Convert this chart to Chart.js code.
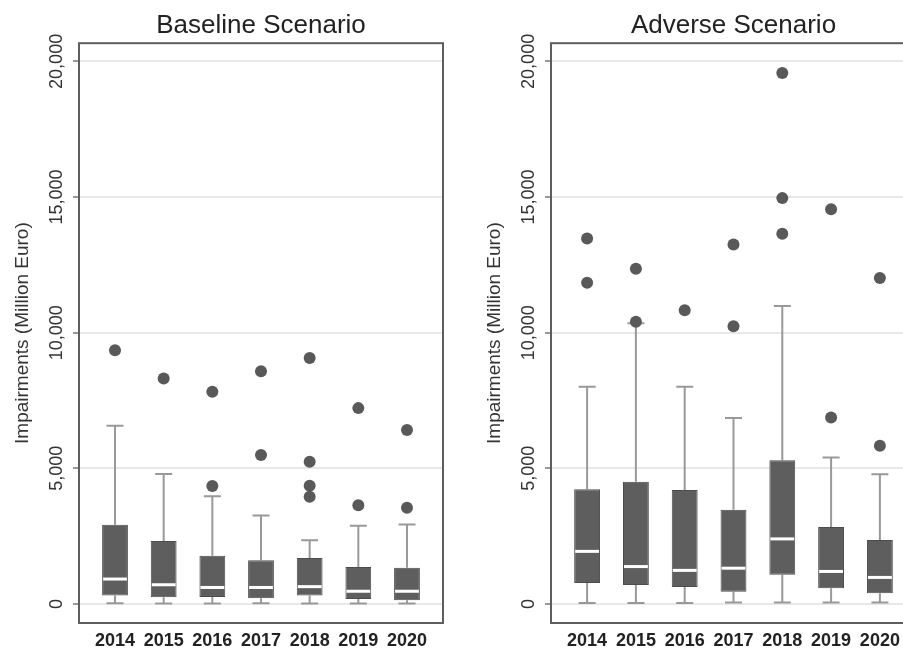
<!DOCTYPE html>
<html>
<head>
<meta charset="utf-8">
<script src="https://cdn.jsdelivr.net/npm/chart.js@4.4.1/dist/chart.umd.min.js"></script>
<style>
  html, body { margin: 0; padding: 0; overflow: hidden; background: #fff; }
  .panel { position: absolute; top: 0; }
</style>
</head>
<body>
<div class="panel" style="left:0"><canvas id="baseChart" width="450" height="650"></canvas></div>
<div class="panel" style="left:472px"><canvas id="advChart" width="451" height="650"></canvas></div>
<script>
// Box plot statistics (Million Euro)
const years = ['2014', '2015', '2016', '2017', '2018', '2019', '2020'];
const yTicks = [0, 5000, 10000, 15000, 20000];

// Baseline scenario
const baseLow = [25, 20, 20, 25, 20, 15, 15];
const baseQ1 = [310, 250, 260, 210, 310, 180, 140];
const baseMed = [920, 710, 610, 610, 640, 470, 470];
const baseQ3 = [2920, 2320, 1780, 1610, 1700, 1360, 1340];
const baseHigh = [6570, 4790, 3970, 3260, 2350, 2880, 2930];
const baseOutliers = [
    [9350],
    [8310],
    [7820, 4350],
    [8580, 5490],
    [9070, 5240, 4360, 3950],
    [7220, 3640],
    [6410, 3550]
];

// Adverse scenario
const advLow = [40, 40, 40, 60, 60, 60, 60];
const advQ1 = [770, 700, 630, 450, 1080, 580, 400];
const advMed = [1940, 1380, 1240, 1320, 2400, 1200, 980];
const advQ3 = [4230, 4510, 4200, 3470, 5300, 2840, 2360];
const advHigh = [8010, 10350, 8010, 6860, 10980, 5400, 4780];
const advOutliers = [
    [13470, 11840],
    [12360, 10400],
    [10830],
    [13250, 10240],
    [19570, 14960, 13650],
    [14550, 6870],
    [12020, 5830]
];

const FONT = 'Liberation Sans, Arial, sans-serif';

// whiskers under the boxes, median line on top, frame round the plot
const boxPlotPlugin = {
    id: 'boxPlot',
    beforeDatasetsDraw(chart, args, opts) {
        const { ctx, scales: { x, y } } = chart;
        ctx.save();
        ctx.strokeStyle = '#999999';
        ctx.lineWidth = 2;
        opts.high.forEach((hi, i) => {
            const px = x.getPixelForValue(i);
            const capHalf = 8.5;
            ctx.beginPath();
            ctx.moveTo(px, y.getPixelForValue(opts.q3[i]));
            ctx.lineTo(px, y.getPixelForValue(hi));
            ctx.moveTo(px - capHalf, y.getPixelForValue(hi));
            ctx.lineTo(px + capHalf, y.getPixelForValue(hi));
            ctx.moveTo(px, y.getPixelForValue(opts.q1[i]));
            ctx.lineTo(px, y.getPixelForValue(opts.low[i]));
            ctx.moveTo(px - capHalf, y.getPixelForValue(opts.low[i]));
            ctx.lineTo(px + capHalf, y.getPixelForValue(opts.low[i]));
            ctx.stroke();
        });
        ctx.restore();
    },
    afterDatasetsDraw(chart, args, opts) {
        const { ctx, scales: { x, y } } = chart;
        const bars = chart.getDatasetMeta(0).data;
        ctx.save();
        ctx.strokeStyle = '#ffffff';
        ctx.lineWidth = 3;
        opts.med.forEach((m, i) => {
            const px = x.getPixelForValue(i);
            const half = bars[i].width / 2 - 1;
            const py = y.getPixelForValue(m);
            ctx.beginPath();
            ctx.moveTo(px - half, py);
            ctx.lineTo(px + half, py);
            ctx.stroke();
        });
        ctx.restore();
    },
    afterDraw(chart) {
        const { ctx, chartArea: a } = chart;
        ctx.save();
        ctx.strokeStyle = '#5e5e5e';
        ctx.lineWidth = 2;
        ctx.strokeRect(a.left, a.top, a.right - a.left, a.bottom - a.top);
        ctx.restore();
    }
};

function makeChart(id, title, low, q1, med, q3, high, outliers) {
    const ctx = document.getElementById(id).getContext('2d');
    const boxes = years.map((_, i) => ({ x: i, y: [q1[i], q3[i]] }));
    const dots = outliers.flatMap((vals, i) => vals.map(v => ({ x: i, y: v })));

    return new Chart(ctx, {
        type: 'bar',
        data: {
            datasets: [
                {
                    type: 'bar',
                    data: boxes,
                    backgroundColor: '#5e5e5e',
                    borderColor: '#4c4c4c',
                    borderWidth: 1,
                    borderSkipped: false,
                    barPercentage: 0.53,
                    categoryPercentage: 1.0
                },
                {
                    type: 'scatter',
                    data: dots,
                    backgroundColor: '#595959',
                    borderWidth: 0,
                    pointRadius: 6
                }
            ]
        },
        options: {
            responsive: false,
            animation: false,
            layout: { padding: { left: 0, right: 7, top: 0, bottom: 0 } },
            plugins: {
                legend: { display: false },
                tooltip: { enabled: false },
                title: {
                    display: true,
                    text: title,
                    fullSize: false,
                    color: '#222',
                    font: { family: FONT, size: 26, weight: 'normal' },
                    padding: { top: 10, bottom: 2 }
                },
                boxPlot: { low, q1, med, q3, high }
            },
            scales: {
                x: {
                    type: 'linear',
                    min: -0.74,
                    max: 6.74,
                    offset: false,
                    afterBuildTicks: s => { s.ticks = years.map((_, i) => ({ value: i })); },
                    afterFit: s => { s.height = 27; },
                    grid: { display: false, drawTicks: false, offset: false },
                    border: { display: false },
                    ticks: {
                        color: '#222',
                        padding: 7,
                        maxRotation: 0,
                        autoSkip: false,
                        font: { family: FONT, size: 18, weight: 'bold' },
                        callback: v => years[v]
                    }
                },
                y: {
                    min: -700,
                    max: 20670,
                    afterBuildTicks: s => { s.ticks = yTicks.map(v => ({ value: v })); },
                    afterFit: s => { s.width = 79; },
                    grid: {
                        color: '#e8e8e8',
                        lineWidth: 2,
                        tickLength: 6,
                        tickColor: '#777',
                        tickWidth: 1.5
                    },
                    border: { display: false },
                    ticks: {
                        color: '#333',
                        minRotation: 90,
                        maxRotation: 90,
                        crossAlign: 'center',
                        padding: -11.5,
                        font: { family: FONT, size: 18 },
                        callback: v => v.toLocaleString('en-US')
                    },
                    title: {
                        display: true,
                        text: 'Impairments (Million Euro)',
                        color: '#333',
                        font: { family: FONT, size: 19 },
                        padding: { top: 11, bottom: 0 }
                    }
                }
            }
        },
        plugins: [boxPlotPlugin]
    });
}

makeChart('baseChart', 'Baseline Scenario', baseLow, baseQ1, baseMed, baseQ3, baseHigh, baseOutliers);
makeChart('advChart', 'Adverse Scenario', advLow, advQ1, advMed, advQ3, advHigh, advOutliers);
</script>
</body>
</html>
